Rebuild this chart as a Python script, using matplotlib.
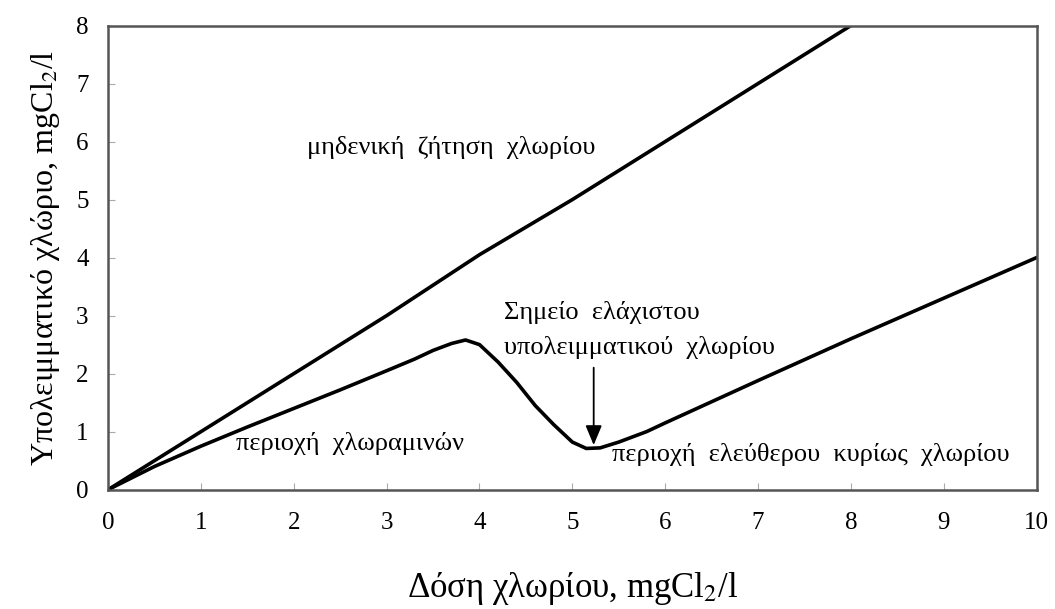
import numpy as np
import matplotlib.pyplot as plt

plt.rcParams['font.family'] = ['Liberation Serif', 'DejaVu Serif']
plt.rcParams['mathtext.fontset'] = 'stix'

# zero demand line
dose_zero = [0, 1, 2, 3, 4, 5, 6, 7, 8]
res_zero = [0, 1.0, 2.0, 3.0, 4.05, 5.0, 6.0, 7.0, 8.0]

# breakpoint curve
dose = [0, 0.5, 1, 1.5, 2, 2.5, 3, 3.3, 3.5, 3.7, 3.85, 4.0, 4.2, 4.4, 4.6, 4.8, 5.0, 5.15, 5.3, 5.5, 5.8, 6, 7, 8, 9, 10]
resid = [0, 0.4, 0.75, 1.08, 1.4, 1.72, 2.05, 2.25, 2.4, 2.52, 2.58, 2.5, 2.2, 1.85, 1.45, 1.12, 0.82, 0.71, 0.72, 0.82, 1.0, 1.15, 1.88, 2.6, 3.3, 4.0]

fig = plt.figure(figsize=(10.55, 6.09), dpi=100)
ax = fig.add_axes([0.1025, 0.196, 0.880, 0.762])

ax.plot(dose_zero, res_zero, color='black', lw=2.6)
ax.plot(dose, resid, color='black', lw=2.6)

ax.annotate('', xy=(5.23, 0.72), xytext=(5.23, 2.15),
            arrowprops=dict(arrowstyle='-|>,head_width=0.5,head_length=1.2',
                            color='#444444', lw=1.3, fc='black', ec='black'))

fs = 19
ax.text(2.14, 5.9, 'μηδενική  ζήτηση  χλωρίου', fontsize=fs, va='center')
ax.text(1.38, 0.8, 'περιοχή  χλωραμινών', fontsize=fs, va='center')
ax.text(4.26, 3.05, 'Σημείο  ελάχιστου', fontsize=fs, va='center')
ax.text(4.26, 2.45, 'υπολειμματικού  χλωρίου', fontsize=fs, va='center')
ax.text(5.43, 0.6, 'περιοχή  ελεύθερου  κυρίως  χλωρίου', fontsize=fs, va='center')

ax.set_xlim(0, 10)
ax.set_ylim(0, 8)
ax.set_xticks(range(0, 11))
ax.set_yticks(range(0, 9))
ax.tick_params(direction='in', length=5, color='#aaaaaa', labelsize=18, pad=16)
ax.tick_params(axis='y', pad=14)
for s in ax.spines.values():
    s.set_color('#555555')
    s.set_linewidth(1.8)

ax.set_xlabel('Δόση χλωρίου, mgCl$_2$/l', fontsize=25, labelpad=26)
ax.set_ylabel('Υπολειμματικό χλώριο, mgCl$_2$/l', fontsize=23, labelpad=10)

plt.savefig('out.png', dpi=100)
